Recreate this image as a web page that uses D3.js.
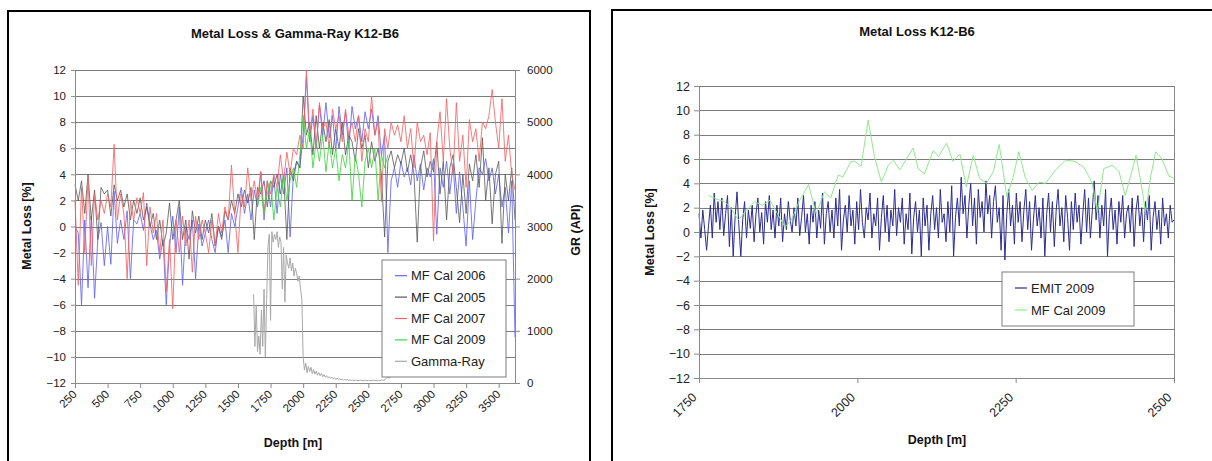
<!DOCTYPE html>
<html>
<head>
<meta charset="utf-8">
<script src="https://cdn.jsdelivr.net/npm/d3@7"></script>
<style>
  body { margin: 0; background: #fff; }
  svg { display: block; font-family: 'Liberation Sans', Arial, sans-serif; }
  .axis path, .axis line { stroke: #8a8a8a; }
  .axis text { fill: #222; }
  .grid line { stroke: #7c7c7c; stroke-width: 1; }
  .series { fill: none; stroke-width: 1; stroke-linejoin: round; }
  .title { font-weight: bold; font-size: 13px; fill: #111; }
  .axis-title { font-weight: bold; font-size: 12.5px; fill: #111; }
  .legend text { font-size: 13px; fill: #222; }
</style>
</head>
<body>
<svg id="chart" width="1212" height="461"></svg>
<script>
// ---- left chart: metal loss on a 25 m depth grid, starting at 250 m
const gridStart = 250;
const gridStep = 25;

const mfCal2006 = [
  0, -0.5, -6, 0.5, -4.7, 0.8, -5.5, -1, 0.3, -3,
  0, -2.9, 2.7, -1.3, 0.5, -1, 1.2, -4, 0.5, 0.2,
  1, -0.3, 1.8, 0.2, -1, -0.3, -2.5, -1, -6, -1.5,
  0.8, -2, 1.5, -4.5, 0, -1, 0.5, -4, 0.2, -1.5,
  -0.5, 0.5, -1, -2, 0, -0.8, 0.5, -2, 1, 0,
  1.5, 3, 1, 2.5, 0.5, 2.8, 1.5, 4.2, 0.5, 3.5,
  1.5, 3.8, 1, 4, 2.5, 4.5, -0.8, 4, 5, 4.5,
  7, 11.5, 6.5, 8.5, 6, 9.3, 7, 9.5, 6.8, 8.5,
  5.8, 9.2, 7, 8.8, 6, 9.2, 7.5, 8.5, 6.5, 8.8,
  7.5, 9, 7, 8.5, 5.5, 7, -2, 3.5, 4.5, 3,
  5, 3.8, 4.5, 3.2, 5.5, 3.5, 4.8, 2.8, 4.5, 3.8,
  5.2, -0.6, 4.5, 3, 5, 2.5, 4.8, 1, 4.2, 1.5,
  -1.5, 3.5, -1, 2, 4.5, 4, 5.2, 3.5, 4.5, 2.5,
  4, 1.5, 3, -0.5, 3.5, -8.5
];

const mfCal2005 = [
  3.2, 2, 3.5, 1, 4, 0.5, 2.8, -1, 3, 2.5,
  2.8, 0.8, 3.2, 2, 2.8, 1.5, 2.5, 0.5, 2, 1,
  2.2, 0.5, 1.5, 0, 1, -1, 0.5, -1.5, -0.5, 1.8,
  -1, 0.5, 2, -1, 0.5, -2.5, 1.2, -0.5, 0.8, -1,
  0.5, -0.5, 1, -1.5, 0, -1, 1.2, 0.5, 2, 1,
  2.5, 1.5, 2.8, 1.8, 3, -1, 3, 2.5, 3.5, 1.5,
  3.5, 3, 4, 2.5, 4, -1, 4.5, 3.5, 5, 4.5,
  10, 7, 8, 5.5, 8.5, 6, 8, 6.5, 8.2, 5.5,
  7.5, 6, 8, 5.5, 7, 6.5, 5, 7.5, 6, 7,
  4.5, 6.5, 5, 6, 4, -0.8, 5, 5.8, 4.5, 5.5,
  4.8, 6, 4.2, 5.5, 4, -1.2, 4.5, 5.8, 3.8, 5,
  4.2, 6.5, 2.5, 5, 0.5, 4.5, 5.5, 3, 0.3, 4,
  1, 4.8, 3.5, 5.5, 3, 6.8, 2, 4.5, 0.2, 4,
  5, -1.3, 4, 2, 4.5, 0.5
];

const mfCal2007 = [
  2, -4.5, 3, -2, 3.8, -3, 2.5, 0.5, 2, 1,
  2.5, 1.5, 6.3, 0.5, 2.5, 1, -4, 2, 0.5, 2.2,
  1, 2.6, -3, 1.5, -0.5, 1, -2, 0.5, -5, -1,
  -6.3, 0.5, -2, 0.8, -1.5, 0.5, -3.5, 0.8, -1, 0.5,
  -0.5, -2, 0.5, -1.5, 1, -0.5, 1.5, 0.5, 4.7, 1,
  -2, 2.5, 1.5, 4.5, 2, 3.5, 2, 4.2, 1, 3.5,
  2.5, 4, 3, 5.5, 3.5, 5.7, 4, 6, 5.5, 7,
  6, 12, 7, 9, 6, 9.5, 7.5, 8, 6, 9,
  7.5, 8.5, 6.5, 9, 7, 8, 6.5, 8.5, 5, 7.5,
  6.5, 10, 7, 8, 1.9, 7.5, 6, 8, 7, 7.8,
  6.5, 8.5, 6, 7.5, 4.5, 8, 6.5, 7, 5.5, 7.2,
  -1.1, 6.5, 8.8, 5, 9.8, 6, 4, 9.5, 5, 7,
  3, 8.2, 6.5, 7.5, 5, 8, 7.5, 8.5, 10.5, 8,
  6, 9.8, 5, 7, 4, 2.8
];

// MF Cal 2009 only covers 1650 - 2650 m on the same 25 m grid
const mfCal2009Start = 1650;
const mfCal2009 = [
  1.5, 3, 1, 2.5, 3.5, 0.5, 3, 1.5, 4, 2,
  3.5, 4.5, 3, 5.5, 8.5, 6, 7.5, 4.5, 6.5, 5,
  7, 4.2, 6.5, 4.5, 6, 3.5, 5.5, 4.5, 6.5, 2,
  5.5, 4, 1.5, 5, 6, 4.5, 6, 2, 5.5, 4.5,
  5.5
];

// gamma ray (API) on a 10 m grid from 1620 m
const gammaStart = 1620;
const gammaStep = 10;
const gammaRay = [
  1700, 700, 1500, 600, 900, 550, 1400, 700, 1800, 500,
  1600, 2600, 2850, 1200, 2900, 2700, 2850, 2750, 2900, 2600,
  2800, 2700, 1800, 2600, 1550, 2450, 2300, 2200, 2400, 2150,
  2300, 2050, 2200, 2100, 1950, 2050, 1800, 1600, 500, 250,
  380, 200, 320, 220, 300, 180, 260, 170, 230, 150,
  200, 140, 180, 120, 160, 110, 140, 100, 120, 90,
  110, 80, 100, 70, 90, 70, 80, 60, 75, 55,
  70, 55, 65, 50, 60, 50, 55, 45, 55, 45,
  50, 45, 55, 45, 50, 40, 55, 45, 50, 40,
  50, 45, 55, 45, 50, 40, 50, 45, 60, 50,
  55, 70, 90, 110, 90, 120
];

const leftTicksX = [250, 500, 750, 1000, 1250, 1500, 1750, 2000, 2250, 2500, 2750, 3000, 3250, 3500];
const lossTicks = [-12, -10, -8, -6, -4, -2, 0, 2, 4, 6, 8, 10, 12];
const gammaTicks = [0, 1000, 2000, 3000, 4000, 5000, 6000];

// ---- right chart: EMIT 2009 on a 3 m grid from 1750 m
const emitStart = 1750;
const emitStep = 3;
const emit2009 = [
  1.5, -0.5, 1.8, 0.2, -1.5, 0.5, 2.2, -0.5, 3.2, 0.8,
  2.5, 0.2, 2.8, -0.3, 1.5, 3.0, -1.2, 2.0, -2.0, 1.2,
  3.3, 0.5, -2.0, 1.0, 2.5, -0.5, 1.8, 0.3, 2.2, -0.8,
  1.5, 2.8, 0.0, 1.6, -1.0, 2.5, 0.8, 3.0, 0.2, 1.8,
  -0.5, 2.2, 0.5, 2.8, -0.8, 1.5, 0.2, 2.5, 1.0, 0.0,
  2.0, 0.5, 2.8, -0.3, 1.2, 3.0, 0.0, 1.5, -1.0, 2.2,
  0.8, 2.5, -0.5, 1.8, 0.3, 3.2, -1.0, 1.5, 2.5, 0.0,
  1.8, -0.5, 2.8, 0.5, 3.5, -1.5, 1.0, 2.2, 0.0, 3.0,
  0.5, 1.8, -1.0, 2.5, 0.2, 3.5, 0.8, -0.5, 2.0, 1.0,
  3.2, -0.5, 1.5, 0.5, 2.8, -1.5, 1.2, 3.0, 0.0, 2.2,
  -0.8, 1.8, 0.5, 3.5, -0.3, 2.0, 0.8, 2.8, -1.0, 1.5,
  0.2, 3.2, -1.8, 1.2, 2.5, 0.0, 1.8, -2.0, 2.8, 0.5,
  2.2, -1.5, 1.5, 3.0, 0.2, 2.0, -0.5, 3.5, 0.8, 1.5,
  -0.8, 2.5, 0.0, 3.8, -2.0, 1.2, 2.8, 0.5, 4.5, 1.5,
  3.0, -0.5, 2.2, 4.0, 0.5, 2.8, -1.0, 3.5, 1.2, 2.5,
  0.0, 4.2, 1.5, 3.0, -0.5, 2.5, 3.8, 0.8, 2.0, -1.5,
  3.0, -2.3, 1.5, 3.5, 0.5, 2.2, -1.0, 3.2, 0.8, 2.5,
  -0.8, 1.8, 3.5, 0.2, 2.5, -1.5, 1.0, 3.0, 0.5, 2.0,
  -0.5, 2.8, -2.0, 1.5, 3.2, 0.0, 2.5, -1.2, 1.8, 3.5,
  0.5, 2.0, -0.8, 3.0, 1.2, -1.5, 2.5, 0.2, 3.2, 0.8,
  2.2, -1.0, 1.5, 3.5, 0.0, 2.8, -0.5, 1.8, 4.2, 1.0,
  3.0, -0.5, 2.2, 0.5, 3.5, -2.0, 1.5, 2.8, 0.2, 1.8,
  -1.0, 2.5, 0.8, 3.0, -0.5, 1.5, 2.2, 0.0, 2.8, -1.2,
  1.8, 3.0, 0.5, 2.0, -0.8, 2.5, 1.0, 3.0, -1.5, 1.2,
  2.5, 0.2, 1.8, -1.0, 2.8, 0.5, 1.5, -0.5, 2.2, 0.8,
  1.0
];

// MF Cal 2009 in the zoomed chart, irregular depths
const mfZoomDepth = [
  1765, 1778, 1790, 1800, 1812, 1825, 1838, 1850, 1862, 1874,
  1886, 1896, 1908, 1923, 1935, 1948, 1958, 1970, 1977, 1990,
  1996, 2006, 2017, 2027, 2038, 2049, 2057, 2067, 2088, 2096,
  2106, 2120, 2128, 2141, 2151, 2162, 2172, 2183, 2193, 2204,
  2215, 2224, 2236, 2246, 2255, 2265, 2276, 2287, 2297, 2313,
  2329, 2344, 2358, 2371, 2379, 2389, 2402, 2413, 2423, 2431,
  2440, 2450, 2455, 2463, 2471, 2481, 2492, 2500
];
const mfZoomLoss = [
  3.0, 2.7, 2.5, 2.0, 1.0, 1.8, 2.5, 2.2, 2.6, 1.5,
  0.4, 1.0, 2.5, 3.9, 1.5, 3.3, 2.8, 4.7, 4.5, 5.8,
  5.8, 5.4, 9.2, 6.2, 4.1, 5.5, 5.9, 5.1, 6.9, 5.2,
  4.8, 6.7, 6.2, 7.3, 5.8, 6.4, 3.7, 6.3, 4.4, 4.0,
  5.0, 7.2, 2.9, 4.5, 6.6, 4.5, 3.4, 4.1, 4.0, 5.1,
  5.9, 5.8, 5.3, 4.0, 1.6, 5.2, 5.5, 5.0, 3.0, 4.5,
  6.3, 3.4, 1.6, 4.5, 6.6, 6.0, 4.6, 4.4
];

const rightTicksX = [1750, 2000, 2250, 2500];

const colors = {
  mf2006: '#6464f5',
  mf2005: '#585858',
  mf2007: '#f46464',
  mf2009: '#3fd63f',
  gamma: '#a8a8a8',
  emit: '#2c2c92',
  mfZoom: '#8eea8e'
};

const svg = d3.select('#chart');
const plain = d3.format('d');

const onGrid = (values, start, step) => values.map((v, i) => [start + i * step, v]);

// panel frames
svg.append('rect').attr('x', 8).attr('y', 11).attr('width', 582).attr('height', 470)
  .attr('fill', '#fff').attr('stroke', '#000').attr('stroke-width', 2);
svg.append('rect').attr('x', 612).attr('y', 10).attr('width', 620).attr('height', 470)
  .attr('fill', '#fff').attr('stroke', '#000').attr('stroke-width', 2);

function drawGrid(g, y, ticks, x0, x1) {
  g.append('g').attr('class', 'grid')
    .selectAll('line').data(ticks).join('line')
    .attr('x1', x0).attr('x2', x1)
    .attr('y1', d => Math.round(y(d)) + 0.5).attr('y2', d => Math.round(y(d)) + 0.5);
}

function styleAxis(g, size) {
  g.attr('class', 'axis');
  g.selectAll('text').style('font-size', size + 'px');
}

function legend(g, x, y, w, rowH, items) {
  const lg = g.append('g').attr('class', 'legend').attr('transform', `translate(${x},${y})`);
  lg.append('rect').attr('width', w).attr('height', rowH * items.length + 10)
    .attr('fill', '#fff').attr('stroke', '#7c7c7c');
  const row = lg.selectAll('g').data(items).join('g')
    .attr('transform', (d, i) => `translate(0,${5 + rowH * i + rowH / 2})`);
  row.append('line').attr('x1', 13).attr('x2', 25).attr('stroke', d => d.color).attr('stroke-width', 1.2);
  row.append('text').attr('x', 29).attr('dy', '0.35em').text(d => d.name);
}

// ---------------- left chart
(function () {
  const x = d3.scaleLinear().domain([250, 3625]).range([75, 515]);
  const y = d3.scaleLinear().domain([-12, 12]).range([383, 70]);
  const yGamma = d3.scaleLinear().domain([0, 6000]).range([383, 70]);
  const g = svg.append('g');

  drawGrid(g, y, lossTicks, 75, 515);

  const line = d3.line().x(d => x(d[0])).y(d => y(d[1]));
  const gammaLine = d3.line().x(d => x(d[0])).y(d => yGamma(d[1]));

  const lines = g.append('g');
  lines.append('path').attr('class', 'series').attr('stroke', colors.mf2006).attr('opacity', 0.85)
    .attr('d', line(onGrid(mfCal2006, gridStart, gridStep)));
  lines.append('path').attr('class', 'series').attr('stroke', colors.mf2005).attr('opacity', 0.8)
    .attr('d', line(onGrid(mfCal2005, gridStart, gridStep)));
  lines.append('path').attr('class', 'series').attr('stroke', colors.mf2007).attr('opacity', 0.85)
    .attr('d', line(onGrid(mfCal2007, gridStart, gridStep)));
  lines.append('path').attr('class', 'series').attr('stroke', colors.mf2009).attr('opacity', 0.85)
    .attr('d', line(onGrid(mfCal2009, mfCal2009Start, gridStep)));
  lines.append('path').attr('class', 'series').attr('stroke', colors.gamma)
    .attr('d', gammaLine(onGrid(gammaRay, gammaStart, gammaStep)));

  const ax = g.append('g').attr('transform', 'translate(0,383)')
    .call(d3.axisBottom(x).tickValues(leftTicksX).tickFormat(plain).tickSize(5).tickSizeOuter(0));
  styleAxis(ax, 11.5);
  ax.selectAll('text').attr('text-anchor', 'end').attr('dy', null).attr('y', null)
    .attr('transform', 'translate(2,12) rotate(-45)');

  const ay = g.append('g').attr('transform', 'translate(75,0)')
    .call(d3.axisLeft(y).tickValues(lossTicks).tickFormat(plain).tickSize(4).tickSizeOuter(0));
  styleAxis(ay, 11.5);
  ay.selectAll('text').attr('x', -9);

  const ar = g.append('g').attr('transform', 'translate(515,0)')
    .call(d3.axisRight(yGamma).tickValues(gammaTicks).tickFormat(plain).tickSize(5).tickSizeOuter(0));
  styleAxis(ar, 11.5);
  ar.selectAll('text').attr('x', 12);

  g.append('text').attr('class', 'title').attr('x', 295).attr('y', 38).attr('text-anchor', 'middle')
    .text('Metal Loss & Gamma-Ray K12-B6');
  g.append('text').attr('class', 'axis-title').attr('x', 293).attr('y', 447).attr('text-anchor', 'middle')
    .text('Depth [m]');
  g.append('text').attr('class', 'axis-title').attr('text-anchor', 'middle')
    .attr('transform', 'translate(31,226) rotate(-90)').text('Metal Loss [%]');
  g.append('text').attr('class', 'axis-title').attr('text-anchor', 'middle')
    .attr('transform', 'translate(580,230) rotate(-90)').text('GR (API)');

  legend(g, 382, 260, 124, 21.4, [
    { name: 'MF Cal 2006', color: colors.mf2006 },
    { name: 'MF Cal 2005', color: colors.mf2005 },
    { name: 'MF Cal 2007', color: colors.mf2007 },
    { name: 'MF Cal 2009', color: colors.mf2009 },
    { name: 'Gamma-Ray', color: colors.gamma }
  ]);
})();

// ---------------- right chart
(function () {
  const x = d3.scaleLinear().domain([1750, 2500]).range([699, 1174]);
  const y = d3.scaleLinear().domain([-12, 12]).range([378, 86]);
  const g = svg.append('g');

  drawGrid(g, y, lossTicks, 699, 1174);
  g.append('line').attr('x1', 1174.5).attr('x2', 1174.5).attr('y1', 86).attr('y2', 378).attr('stroke', '#8a8a8a');

  const line = d3.line().x(d => x(d[0])).y(d => y(d[1]));
  g.append('path').attr('class', 'series').attr('stroke', colors.emit).attr('stroke-width', 1.15)
    .attr('d', line(onGrid(emit2009, emitStart, emitStep)));
  g.append('path').attr('class', 'series').attr('stroke', colors.mfZoom)
    .attr('d', line(mfZoomDepth.map((d, i) => [d, mfZoomLoss[i]])));

  const ax = g.append('g').attr('transform', 'translate(0,378)')
    .call(d3.axisBottom(x).tickValues(rightTicksX).tickFormat(plain).tickSize(5).tickSizeOuter(0));
  styleAxis(ax, 12.5);
  ax.selectAll('text').attr('text-anchor', 'end').attr('dy', null).attr('y', null)
    .attr('transform', 'translate(-2,20) rotate(-45)');

  const ay = g.append('g').attr('transform', 'translate(699,0)')
    .call(d3.axisLeft(y).tickValues(lossTicks).tickFormat(plain).tickSize(5).tickSizeOuter(0));
  styleAxis(ay, 12.5);
  ay.selectAll('text').attr('x', -9);

  g.append('text').attr('class', 'title').attr('x', 917).attr('y', 36).attr('text-anchor', 'middle')
    .text('Metal Loss K12-B6');
  g.append('text').attr('class', 'axis-title').attr('x', 937).attr('y', 444).attr('text-anchor', 'middle')
    .text('Depth [m]');
  g.append('text').attr('class', 'axis-title').attr('text-anchor', 'middle')
    .attr('transform', 'translate(654,232) rotate(-90)').text('Metal Loss [%]');

  legend(g, 1002, 272, 132, 22, [
    { name: 'EMIT 2009', color: colors.emit },
    { name: 'MF Cal 2009', color: colors.mfZoom }
  ]);
})();
</script>
</body>
</html>
